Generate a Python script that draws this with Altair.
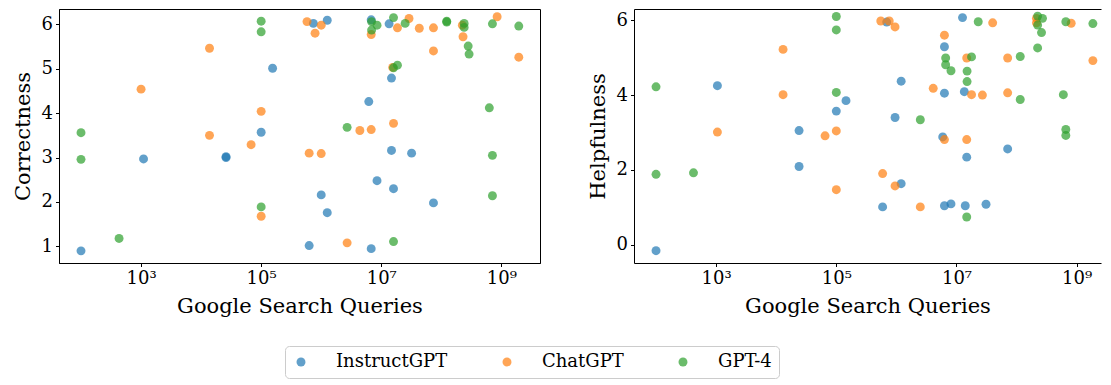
import altair as alt
import pandas as pd

models = ["InstructGPT", "ChatGPT", "GPT-4"]
colors = ["#1f77b4", "#ff7f0e", "#2ca02c"]

x_tick_values = [1e3, 1e5, 1e7, 1e9]
x_tick_labels = ["10³", "10⁵", "10⁷", "10⁹"]

# ---- Correctness panel ----
corr_instruct_x = [1e2, 1.1e3, 2.6e4, 2.6e4, 1e5, 1.55e5, 7.4e5, 1.26e6, 6.8e6, 1.35e7, 1.48e7,
                   6.2e6, 1.48e7, 3.2e7, 8.5e6, 1e6, 1.6e7, 7.4e7, 1.26e6, 6.3e5, 6.8e6]
corr_instruct_y = [0.90, 2.97, 3.02, 3.00, 3.57, 5.01, 6.02, 6.09, 6.10, 6.01, 4.79,
                   4.26, 3.16, 3.10, 2.48, 2.16, 2.30, 1.98, 1.76, 1.02, 0.95]

corr_chat_x = [1e3, 1.38e4, 1.38e4, 6.8e4, 1e5, 1e5, 5.8e5, 1e6, 7.9e5, 6.8e6, 1.86e7, 2.9e7, 4.3e7,
               7.4e7, 2.24e8, 2.3e8, 8.5e8, 1.95e9, 7.4e7, 1.55e7, 4.4e6, 6.8e6, 1.6e7, 6.3e5, 1e6, 2.7e6]
corr_chat_y = [4.54, 5.46, 3.50, 3.29, 4.04, 1.68, 6.06, 5.98, 5.80, 5.77, 5.92, 6.13, 5.91,
               5.92, 5.98, 5.72, 6.17, 5.26, 5.40, 5.03, 3.61, 3.63, 3.77, 3.10, 3.09, 1.08]

corr_gpt4_x = [1e2, 1e2, 4.3e2, 1e5, 1e5, 1e5, 6.9e6, 8.5e6, 6.9e6, 1.6e7, 2.5e7, 1.23e8, 1.23e8,
               2.4e8, 2.4e8, 2.8e8, 2.9e8, 7.1e8, 1.95e9, 1.6e7, 1.86e7, 6.3e8, 2.7e6, 7.1e8, 7.1e8, 1.6e7]
corr_gpt4_y = [3.56, 2.96, 1.18, 6.07, 5.83, 1.89, 6.06, 5.98, 5.87, 6.15, 6.02, 6.07, 6.05,
               6.02, 5.93, 5.51, 5.33, 6.01, 5.96, 5.02, 5.08, 4.12, 3.68, 3.05, 2.14, 1.11]

# ---- Helpfulness panel ----
help_instruct_x = [1e2, 1.05e3, 2.4e4, 2.4e4, 1e5, 1.45e5, 6.9e5, 1.2e6, 9.5e5, 1.2e6, 5.9e5,
                   6.3e6, 6.3e6, 5.9e6, 6.3e6, 8.1e6, 1.26e7, 1.35e7, 1.48e7, 1.4e7, 3.1e7, 7.1e7]
help_instruct_y = [-0.16, 4.25, 3.05, 2.09, 3.57, 3.85, 5.95, 4.37, 3.40, 1.63, 1.01,
                   4.05, 5.29, 2.88, 1.04, 1.09, 6.07, 4.09, 2.34, 1.04, 1.08, 2.56]

help_chat_x = [1.05e3, 1.3e4, 1.3e4, 6.5e4, 1e5, 1e5, 5.5e5, 7.6e5, 9.5e5, 5.9e5, 9.5e5, 2.5e6, 4.1e6,
               6.3e6, 6.3e6, 1.78e7, 1.48e7, 1.48e7, 4e7, 2.7e7, 7.1e7, 7.1e7, 2.14e8, 2.14e8, 8.1e8, 1.86e9]
help_chat_y = [3.01, 5.22, 4.01, 2.91, 3.04, 1.47, 5.98, 5.98, 5.82, 1.90, 1.57, 1.01, 4.18,
               5.60, 2.81, 4.01, 4.99, 2.81, 5.93, 4.00, 4.99, 4.06, 6.05, 5.93, 5.92, 4.92]

help_gpt4_x = [1e2, 1e2, 4.2e2, 1e5, 1e5, 1e5, 2.5e6, 6.6e6, 6.6e6, 8.1e6, 1.78e7, 1.5e7, 1.5e7, 1.48e7,
               2.3e7, 1.15e8, 1.15e8, 2.24e8, 2.7e8, 2.24e8, 2.6e8, 2.24e8, 6.6e8, 1.86e9, 6e8, 6.6e8, 6.6e8]
help_gpt4_y = [4.22, 1.88, 1.92, 6.10, 5.74, 4.07, 3.34, 4.99, 4.81, 4.65, 5.02, 4.64, 4.36, 0.74,
               5.96, 5.03, 3.88, 6.11, 6.05, 5.87, 5.67, 5.26, 5.96, 5.91, 4.01, 3.08, 2.92]


def frame(series):
    rows = []
    for model, xs, ys in series:
        for xv, yv in zip(xs, ys):
            rows.append({"model": model, "queries": xv, "score": yv})
    return pd.DataFrame(rows)


corr_df = frame([("InstructGPT", corr_instruct_x, corr_instruct_y),
                 ("ChatGPT", corr_chat_x, corr_chat_y),
                 ("GPT-4", corr_gpt4_x, corr_gpt4_y)])
help_df = frame([("InstructGPT", help_instruct_x, help_instruct_y),
                 ("ChatGPT", help_chat_x, help_chat_y),
                 ("GPT-4", help_gpt4_x, help_gpt4_y)])

label_expr = " : ".join(
    f"datum.value == {v:.0f} ? '{l}'" for v, l in zip(x_tick_values[:-1], x_tick_labels[:-1])
) + f" : '{x_tick_labels[-1]}'"

FONT = "DejaVu Serif"
X_TITLE = "Google Search Queries"

legend = alt.Legend(
    title=None, orient="none", direction="horizontal",
    legendX=226, legendY=337,
    labelFont=FONT, labelFontSize=18, labelColor="black",
    symbolType="circle", symbolSize=80, symbolOpacity=0.7, symbolStrokeWidth=0,
    labelOffset=26, columnPadding=50, padding=7,
    fillColor="white", strokeColor="#cccccc", cornerRadius=4,
)
color_enc = alt.Color("model:N", scale=alt.Scale(domain=models, range=colors), legend=legend)
color_nolegend = alt.Color("model:N", scale=alt.Scale(domain=models, range=colors), legend=None)


def x_enc(domain_max, **axis_kw):
    return alt.X("queries:Q",
                 scale=alt.Scale(type="log", domain=[43, domain_max], nice=False),
                 axis=alt.Axis(**axis_kw))


left = alt.Chart(corr_df).mark_circle(size=80, opacity=0.7, strokeWidth=0).encode(
    x=x_enc(4.4e9, values=x_tick_values, labelExpr=label_expr, title=X_TITLE),
    y=alt.Y("score:Q", scale=alt.Scale(domain=[0.627, 6.344], nice=False, zero=False),
            axis=alt.Axis(values=[1, 2, 3, 4, 5, 6], title="Correctness")),
    color=color_enc,
).properties(width=481, height=254)

help_y = alt.Scale(domain=[-0.49, 6.30], nice=False, zero=False)
right_pts = alt.Chart(help_df).mark_circle(size=80, opacity=0.7, strokeWidth=0).encode(
    x=x_enc(2.54e9, values=x_tick_values, labelExpr=label_expr, title=X_TITLE),
    y=alt.Y("score:Q", scale=help_y, axis=alt.Axis(values=[0, 2, 4, 6], title="Helpfulness")),
    color=color_nolegend,
)
right_top = alt.Chart(help_df).mark_circle(size=0, opacity=0).encode(
    x=x_enc(2.54e9, orient="top", labels=False, ticks=False, title=None, domain=True),
)
right = alt.layer(right_pts, right_top).resolve_axis(x="independent").properties(
    width=467, height=254, view=alt.ViewBackground(stroke="transparent")
)

chart = alt.hconcat(left, right, spacing=45).properties(
    padding={"left": 3, "top": 0, "right": 0, "bottom": 0}
).configure(font=FONT).configure_axis(
    grid=False, domainColor="black", tickColor="black", labelColor="black", titleColor="black",
    tickSize=3.5, labelFontSize=18, titleFontSize=21, titleFontWeight="normal",
    labelFont=FONT, titleFont=FONT, labelPadding=3, titlePadding=8,
).configure_view(stroke="black", strokeWidth=1)

chart.save("out.html", embed_options={"renderer": "svg", "actions": False})
